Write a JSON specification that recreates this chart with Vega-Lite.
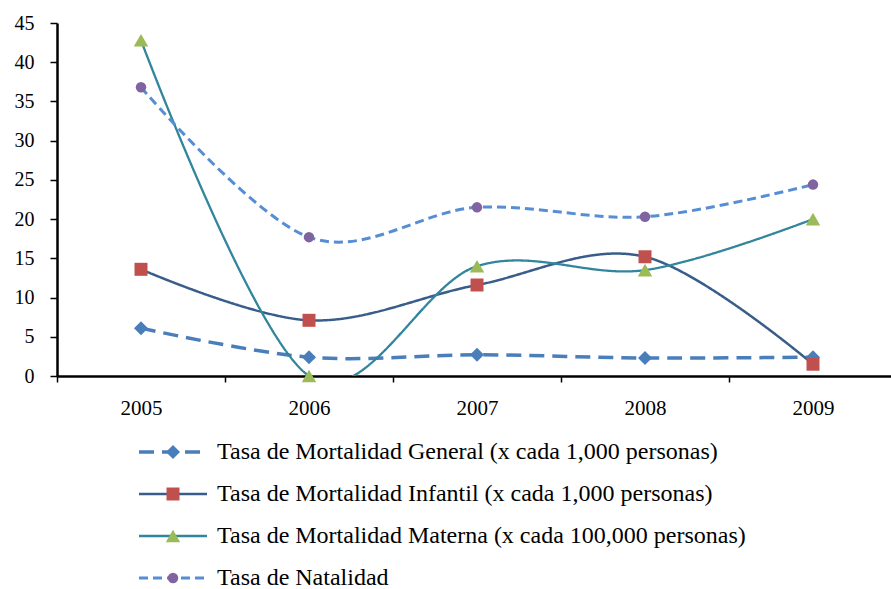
{
  "$schema": "https://vega.github.io/schema/vega-lite/v6.json",
  "width": 834,
  "height": 353,
  "autosize": {"type": "none"},
  "padding": {"left": 57, "top": 23, "right": 0, "bottom": 213},
  "background": "white",
  "config": {"view": {"stroke": null}, "font": "Liberation Serif"},
  "data": {
    "values": [
      {"anio": "2005", "serie": "Tasa de Mortalidad General (x cada 1,000 personas)", "valor": 6.1},
      {"anio": "2006", "serie": "Tasa de Mortalidad General (x cada 1,000 personas)", "valor": 2.4},
      {"anio": "2007", "serie": "Tasa de Mortalidad General (x cada 1,000 personas)", "valor": 2.7},
      {"anio": "2008", "serie": "Tasa de Mortalidad General (x cada 1,000 personas)", "valor": 2.3},
      {"anio": "2009", "serie": "Tasa de Mortalidad General (x cada 1,000 personas)", "valor": 2.4},
      {"anio": "2005", "serie": "Tasa de Mortalidad Infantil (x cada 1,000 personas)", "valor": 13.6},
      {"anio": "2006", "serie": "Tasa de Mortalidad Infantil (x cada 1,000 personas)", "valor": 7.1},
      {"anio": "2007", "serie": "Tasa de Mortalidad Infantil (x cada 1,000 personas)", "valor": 11.6},
      {"anio": "2008", "serie": "Tasa de Mortalidad Infantil (x cada 1,000 personas)", "valor": 15.2},
      {"anio": "2009", "serie": "Tasa de Mortalidad Infantil (x cada 1,000 personas)", "valor": 1.5},
      {"anio": "2005", "serie": "Tasa de Mortalidad Materna (x cada 100,000 personas)", "valor": 42.8},
      {"anio": "2006", "serie": "Tasa de Mortalidad Materna (x cada 100,000 personas)", "valor": 0},
      {"anio": "2007", "serie": "Tasa de Mortalidad Materna (x cada 100,000 personas)", "valor": 14.0},
      {"anio": "2008", "serie": "Tasa de Mortalidad Materna (x cada 100,000 personas)", "valor": 13.5},
      {"anio": "2009", "serie": "Tasa de Mortalidad Materna (x cada 100,000 personas)", "valor": 20.0},
      {"anio": "2005", "serie": "Tasa de Natalidad", "valor": 36.8},
      {"anio": "2006", "serie": "Tasa de Natalidad", "valor": 17.7},
      {"anio": "2007", "serie": "Tasa de Natalidad", "valor": 21.5},
      {"anio": "2008", "serie": "Tasa de Natalidad", "valor": 20.3},
      {"anio": "2009", "serie": "Tasa de Natalidad", "valor": 24.4}
    ]
  },
  "encoding": {
    "x": {
      "field": "anio",
      "type": "ordinal",
      "scale": {"type": "band", "paddingInner": 0, "paddingOuter": 0, "range": [0, 840]},
      "axis": {
        "title": null,
        "labelAngle": 0,
        "tickBand": "extent",
        "grid": false,
        "domainColor": "black",
        "domainWidth": 2.5,
        "tickColor": "black",
        "tickSize": 6,
        "tickWidth": 1.5,
        "labelFont": "Liberation Serif",
        "labelFontSize": 21,
        "labelColor": "black",
        "labelPadding": 15
      }
    },
    "y": {
      "field": "valor",
      "type": "quantitative",
      "scale": {"domain": [0, 45], "nice": false, "zero": true},
      "axis": {
        "title": null,
        "values": [0, 5, 10, 15, 20, 25, 30, 35, 40, 45],
        "grid": false,
        "domainColor": "black",
        "domainWidth": 2.5,
        "tickColor": "black",
        "tickSize": 7,
        "tickWidth": 1.5,
        "labelFont": "Liberation Serif",
        "labelFontSize": 20,
        "labelColor": "black",
        "labelPadding": 16
      }
    }
  },
  "layer": [
    {
      "mark": {"type": "line", "interpolate": "cardinal", "clip": true},
      "encoding": {
        "stroke": {
          "field": "serie",
          "type": "nominal",
          "scale": {
            "domain": [
              "Tasa de Mortalidad General (x cada 1,000 personas)",
              "Tasa de Mortalidad Infantil (x cada 1,000 personas)",
              "Tasa de Mortalidad Materna (x cada 100,000 personas)",
              "Tasa de Natalidad"
            ],
            "range": ["#4A7EBB", "#385D8A", "#31859C", "#558ED5"]
          },
          "legend": {
            "orient": "none",
            "legendX": 104,
            "legendY": 417,
            "title": null,
            "padding": 0,
            "symbolType": "M-5,0H5",
            "symbolSize": 185,
            "symbolFillColor": "transparent",
            "labelFont": "Liberation Serif",
            "labelFontSize": 24,
            "labelColor": "black",
            "labelOffset": 32,
            "labelLimit": 700,
            "rowPadding": 18
          }
        },
        "strokeDash": {
          "field": "serie",
          "type": "nominal",
          "scale": {
            "domain": [
              "Tasa de Mortalidad General (x cada 1,000 personas)",
              "Tasa de Mortalidad Infantil (x cada 1,000 personas)",
              "Tasa de Mortalidad Materna (x cada 100,000 personas)",
              "Tasa de Natalidad"
            ],
            "range": [[15, 8], [1, 0], [1, 0], [9, 5]]
          }
        },
        "strokeWidth": {
          "field": "serie",
          "type": "nominal",
          "scale": {
            "type": "ordinal",
            "domain": [
              "Tasa de Mortalidad General (x cada 1,000 personas)",
              "Tasa de Mortalidad Infantil (x cada 1,000 personas)",
              "Tasa de Mortalidad Materna (x cada 100,000 personas)",
              "Tasa de Natalidad"
            ],
            "range": [3.5, 2.5, 2.3, 3]
          }
        }
      }
    },
    {
      "mark": {"type": "point", "filled": true, "opacity": 1, "strokeWidth": 0},
      "encoding": {
        "fill": {
          "field": "serie",
          "type": "nominal",
          "scale": {
            "range": ["#4A7EBB", "#C0504D", "#9BBB59", "#8064A2"]
          },
          "legend": {
            "orient": "none",
            "legendX": 104,
            "legendY": 417,
            "title": null,
            "padding": 0,
            "labelExpr": "''",
            "labelFontSize": 24,
            "labelOffset": 8,
            "rowPadding": 18,
            "symbolStrokeWidth": 0
          }
        },
        "shape": {
          "field": "serie",
          "type": "nominal",
          "scale": {
            "range": ["diamond", "square", "triangle-up", "circle"]
          }
        },
        "size": {
          "field": "serie",
          "type": "nominal",
          "scale": {
            "type": "ordinal",
            "range": [196, 169, 210, 110]
          }
        }
      }
    }
  ]
}
